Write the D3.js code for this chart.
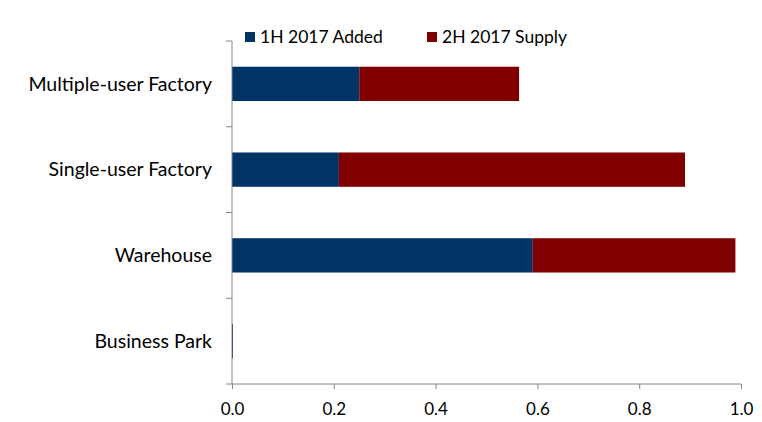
<!DOCTYPE html>
<html>
<head>
<meta charset="utf-8">
<script src="https://cdn.jsdelivr.net/npm/d3@7"></script>
<style>
  body { margin: 0; background: #fff; }
  svg { display: block; }
  text { font-family: Lato, "Open Sans", sans-serif; fill: #000; }
</style>
</head>
<body>
<svg id="chart" width="762" height="422"></svg>
<script>
// Industrial space: supply added in 1H 2017 vs. supply expected in 2H 2017
const categories = ["Multiple-user Factory", "Single-user Factory", "Warehouse", "Business Park"];
const seriesNames = ["1H 2017 Added", "2H 2017 Supply"];
const added1H = [0.25, 0.21, 0.591, 0.002];
const supply2H = [0.314, 0.68, 0.398, 0.0];
const xTicks = [0, 0.2, 0.4, 0.6, 0.8, 1.0];
const colors = ["#003366", "#800000"];

const svg = d3.select("#chart");
const margin = { left: 232, right: 21, top: 41, bottom: 38 };
const W = 762, H = 422;

const x = d3.scaleLinear().domain([0, 1]).range([margin.left, W - margin.right]);
const y = d3.scaleBand().domain(categories).range([margin.top, H - margin.bottom]).paddingInner(0.6).paddingOuter(0.3);

const rows = categories.map((c, i) => ({ cat: c, a: added1H[i], b: supply2H[i] }));
const stacked = d3.stack().keys(["a", "b"])(rows);

// bars
svg.append("g").selectAll("g").data(stacked).join("g")
  .attr("fill", (d, i) => colors[i])
  .selectAll("rect").data(d => d).join("rect")
  .attr("x", d => x(d[0]))
  .attr("y", d => y(d.data.cat))
  .attr("width", d => Math.max(0, x(d[1]) - x(d[0])))
  .attr("height", y.bandwidth());

const axisColor = "#868686";

// x axis
const xAxis = svg.append("g")
  .attr("transform", `translate(0,${H - margin.bottom})`)
  .call(d3.axisBottom(x).tickValues(xTicks).tickFormat(d3.format(".1f")).tickSize(5).tickSizeOuter(0));
xAxis.select(".domain").attr("stroke", axisColor).attr("d", `M${margin.left - 6},0H${W - margin.right}`);
xAxis.selectAll(".tick line").attr("stroke", axisColor);
xAxis.selectAll(".tick text").attr("dy", "1.35em").style("font-size", "17px").style("font-family", "Lato, sans-serif").attr("fill", "#000");

// y axis: line with ticks at category boundaries
const step = y.step();
const yAxisG = svg.append("g");
yAxisG.append("line")
  .attr("x1", x(0)).attr("x2", x(0))
  .attr("y1", margin.top).attr("y2", H - margin.bottom)
  .attr("stroke", axisColor);
const boundaries = d3.range(categories.length).map(i => y(categories[i]) + y.bandwidth() / 2 - step / 2);
yAxisG.selectAll("line.tick").data(boundaries).join("line")
  .attr("class", "tick")
  .attr("x1", x(0) - 6).attr("x2", x(0))
  .attr("y1", d => d).attr("y2", d => d)
  .attr("stroke", axisColor);

// category labels
svg.append("g").selectAll("text").data(categories).join("text")
  .attr("x", margin.left - 20)
  .attr("y", d => y(d) + y.bandwidth() / 2)
  .attr("dy", "0.35em")
  .attr("text-anchor", "end")
  .style("font-size", "19.5px")
  .text(d => d);

// legend
const legendX = [245, 427];
const legend = svg.append("g").selectAll("g").data(seriesNames).join("g")
  .attr("transform", (d, i) => `translate(${legendX[i]},37)`);
legend.append("rect").attr("x", 0).attr("y", -5).attr("width", 10).attr("height", 10)
  .attr("fill", (d, i) => colors[i]);
legend.append("text").attr("x", 15).attr("dy", "0.35em")
  .style("font-size", "17.5px").text(d => d);
</script>
</body>
</html>
